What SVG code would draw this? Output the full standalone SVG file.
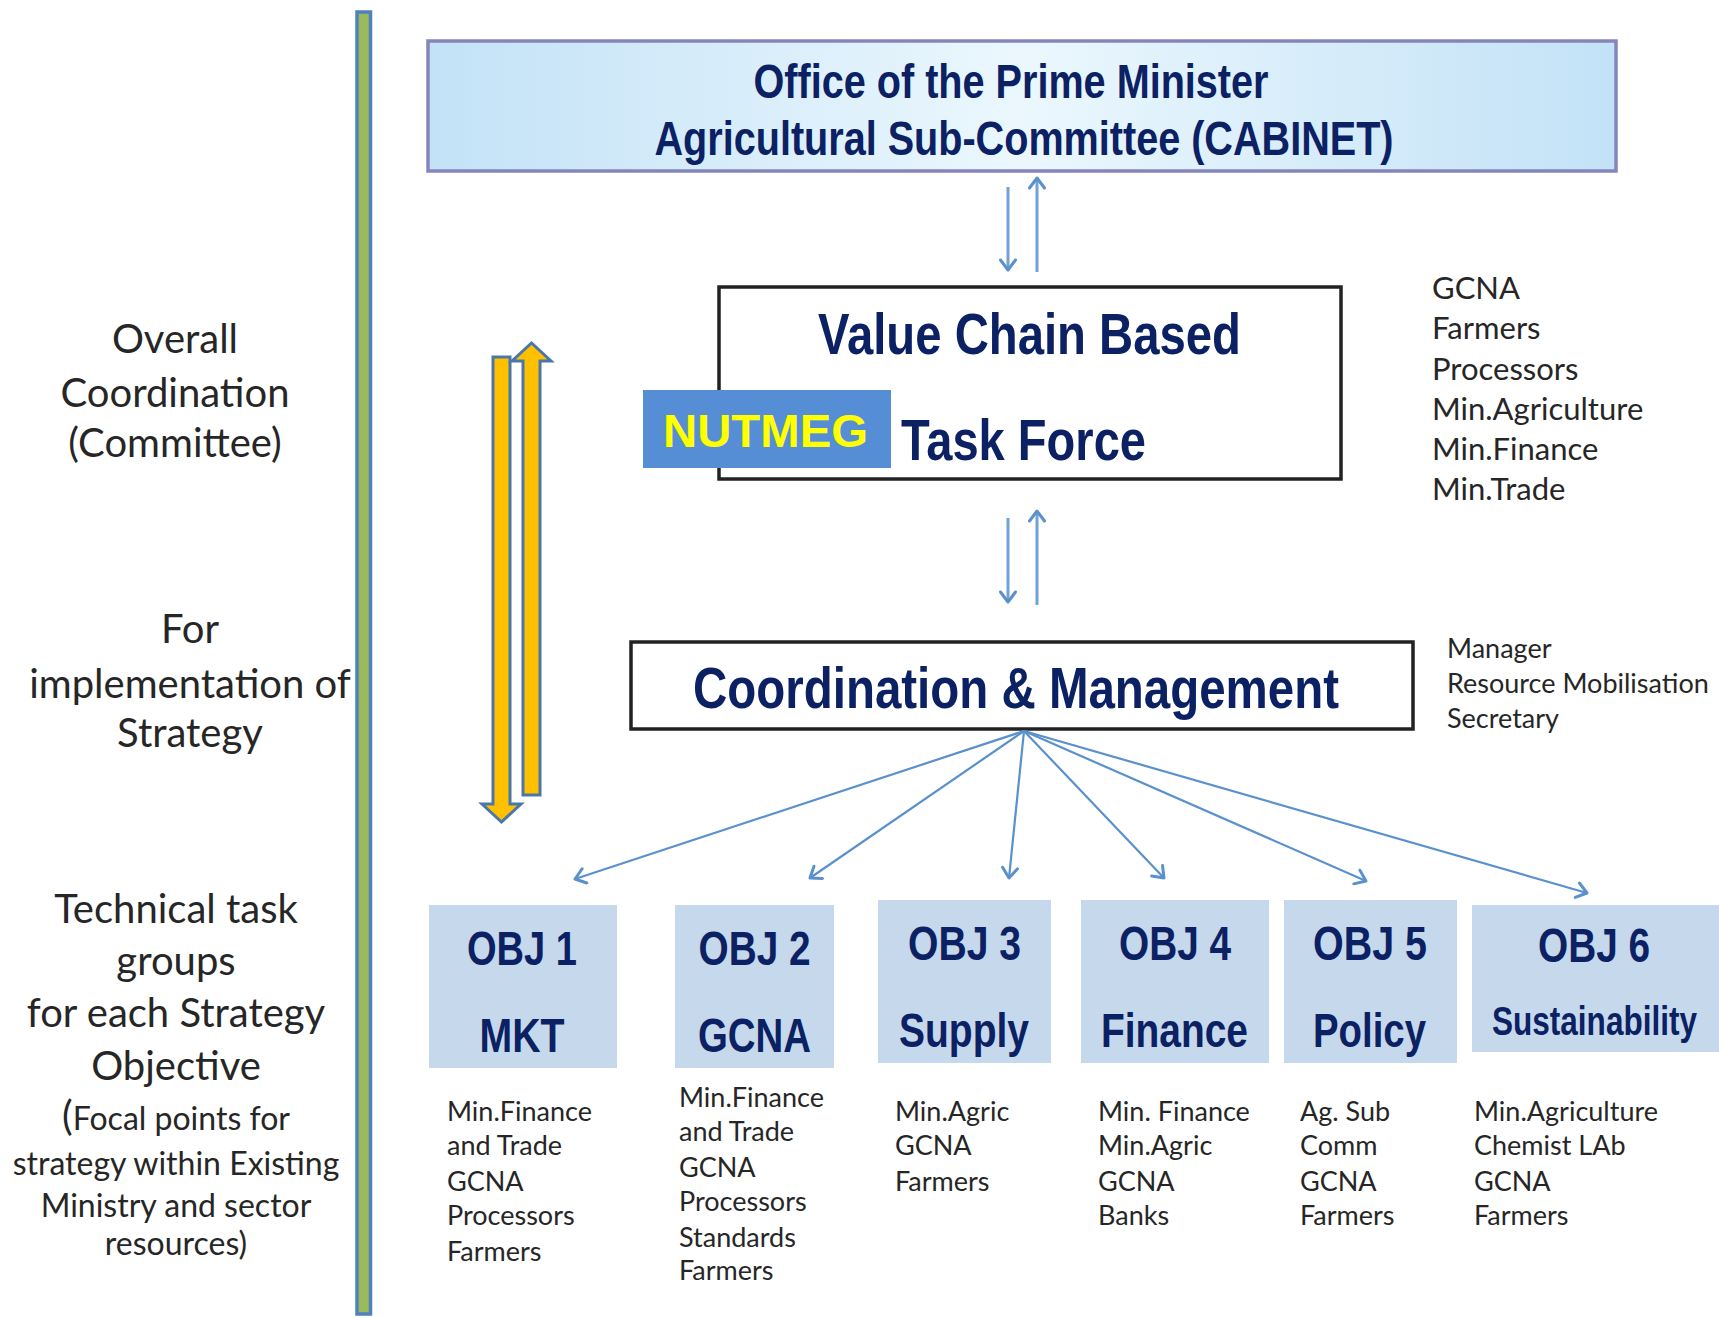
<svg xmlns="http://www.w3.org/2000/svg" width="1719" height="1318" viewBox="0 0 1719 1318">
  <defs>
    <linearGradient id="cabinetFill" x1="0" y1="0" x2="1" y2="0">
      <stop offset="0" stop-color="#c3e2f7"/>
      <stop offset="0.5" stop-color="#ebf7fd"/>
      <stop offset="1" stop-color="#c3e2f7"/>
    </linearGradient>
    <marker id="vhead" viewBox="-12 -9 14 18" markerWidth="14" markerHeight="18" refX="0" refY="0" orient="auto" markerUnits="userSpaceOnUse">
      <path d="M-10,-7.5 L0,0 L-10,7.5" fill="none" stroke="#5a91cc" stroke-width="3" stroke-linecap="round" stroke-linejoin="round"/>
    </marker>
    <style>
      .title { font-family: "Liberation Sans Narrow", "Liberation Sans", Arial, sans-serif; font-weight: bold; fill: #0b2163; text-anchor: middle; }
      .label { font-family: Lato, "Open Sans", "Liberation Sans", sans-serif; fill: #262626; text-anchor: middle; }
      .list { font-family: Lato, "Open Sans", "Liberation Sans", sans-serif; fill: #262626; }
      .obj { fill: #c5d8ec; }
      .frame { fill: #ffffff; stroke: #222222; stroke-width: 3.5; }
      .link { stroke: #5a91cc; stroke-width: 2.2; fill: none; marker-end: url(#vhead); }
      .pair { stroke: #6ea3d8; stroke-width: 3; fill: none; marker-end: url(#vhead); }
      .block { fill: #ffc000; stroke: #4a76a8; stroke-width: 3; stroke-linejoin: miter; }
    </style>
  </defs>

  <rect width="1719" height="1318" fill="#ffffff"/>

  <!-- Left-hand tier labels -->
  <g id="tier-labels">
    <text class="label" font-size="40" x="175" y="353">Overall</text>
    <text class="label" font-size="40" x="175" y="407">Coordination</text>
    <text class="label" font-size="40" x="175" y="457">(Committee)</text>

    <text class="label" font-size="40" x="190" y="643">For</text>
    <text class="label" font-size="40" x="190" y="698">implementation of</text>
    <text class="label" font-size="40" x="190" y="747">Strategy</text>

    <text class="label" font-size="40" x="176" y="923">Technical task</text>
    <text class="label" font-size="40" x="176" y="975">groups</text>
    <text class="label" font-size="40" x="176" y="1027">for each Strategy</text>
    <text class="label" font-size="40" x="176" y="1080">Objective</text>
    <text class="label" font-size="32" x="176" y="1130"><tspan font-size="40">(</tspan>Focal points for</text>
    <text class="label" font-size="32" x="176" y="1175">strategy within Existing</text>
    <text class="label" font-size="32" x="176" y="1217">Ministry and sector</text>
    <text class="label" font-size="32" x="176" y="1255">resources)</text>
  </g>

  <!-- Vertical divider bar -->
  <g id="divider">
    <rect x="357" y="12" width="13.5" height="1302" fill="#9bbb59" stroke="#4f81bd" stroke-width="3.5"/>
  </g>

  <!-- Up / down block arrows -->
  <g id="flow-arrows">
    <polygon class="block" points="493,357 510,357 510,804 521,804 501.5,822 482,804 493,804"/>
    <polygon class="block" points="523,795 540,795 540,361 551,361 531.5,343 512,361 523,361"/>
  </g>

  <!-- Cabinet -->
  <g id="cabinet">
    <rect x="428" y="41" width="1188" height="130" fill="url(#cabinetFill)" stroke="#8585bb" stroke-width="3.5"/>
    <text class="title" font-size="48" x="1011" y="98" textLength="515" lengthAdjust="spacingAndGlyphs">Office of the Prime Minister</text>
    <text class="title" font-size="48" x="1024" y="155" textLength="739" lengthAdjust="spacingAndGlyphs">Agricultural Sub-Committee (CABINET)</text>
  </g>

  <!-- Task force -->
  <g id="task-force">
    <rect class="frame" x="719" y="287" width="622" height="192"/>
    <text class="title" font-size="57" x="1029.5" y="354" textLength="423" lengthAdjust="spacingAndGlyphs">Value Chain Based</text>
    <text class="title" font-size="57" x="1023.5" y="460" textLength="245" lengthAdjust="spacingAndGlyphs">Task Force</text>
  </g>

  <!-- NUTMEG badge -->
  <g id="nutmeg">
    <rect x="643" y="390" width="248" height="78" fill="#558ed5"/>
    <text x="765.5" y="447" font-family="Liberation Sans, Arial, sans-serif" font-weight="bold" font-size="47" fill="#ffff00" text-anchor="middle" textLength="205" lengthAdjust="spacingAndGlyphs">NUTMEG</text>
  </g>

  <!-- Task force membership -->
  <g id="task-force-members" class="list" font-size="31">
    <text x="1432" y="299">GCNA</text>
    <text x="1432" y="339">Farmers</text>
    <text x="1432" y="380">Processors</text>
    <text x="1432" y="420">Min.Agriculture</text>
    <text x="1432" y="460">Min.Finance</text>
    <text x="1432" y="500">Min.Trade</text>
  </g>

  <!-- Coordination & Management -->
  <g id="coordination">
    <rect class="frame" x="631" y="642" width="782" height="87" stroke-width="3"/>
    <text class="title" font-size="57" x="1016" y="708" textLength="646" lengthAdjust="spacingAndGlyphs">Coordination &amp; Management</text>
  </g>

  <g id="coordination-staff" class="list" font-size="27">
    <text x="1447" y="658">Manager</text>
    <text x="1447" y="693">Resource Mobilisation</text>
    <text x="1447" y="728">Secretary</text>
  </g>

  <!-- Connectors -->
  <g id="connectors">
    <line class="pair" x1="1008" y1="187" x2="1008" y2="270"/>
    <line class="pair" x1="1037" y1="272" x2="1037" y2="178"/>
    <line class="pair" x1="1008" y1="518" x2="1008" y2="602"/>
    <line class="pair" x1="1037" y1="605" x2="1037" y2="511"/>

    <line class="link" x1="1024" y1="731" x2="575" y2="879"/>
    <line class="link" x1="1024" y1="731" x2="810" y2="878"/>
    <line class="link" x1="1024" y1="731" x2="1009" y2="878"/>
    <line class="link" x1="1024" y1="731" x2="1164" y2="878"/>
    <line class="link" x1="1024" y1="731" x2="1366" y2="881"/>
    <line class="link" x1="1024" y1="731" x2="1587" y2="893"/>
  </g>

  <!-- Strategy objectives -->
  <g id="obj1">
    <rect class="obj" x="429" y="905" width="188" height="163"/>
    <text class="title" font-size="48" x="522" y="965" textLength="110" lengthAdjust="spacingAndGlyphs">OBJ 1</text>
    <text class="title" font-size="48" x="522" y="1052" textLength="85" lengthAdjust="spacingAndGlyphs">MKT</text>
    <g class="list" font-size="27">
      <text x="447" y="1121">Min.Finance</text>
      <text x="447" y="1155">and Trade</text>
      <text x="447" y="1191">GCNA</text>
      <text x="447" y="1225">Processors</text>
      <text x="447" y="1261">Farmers</text>
    </g>
  </g>

  <g id="obj2">
    <rect class="obj" x="675" y="905" width="159" height="163"/>
    <text class="title" font-size="48" x="754.5" y="965" textLength="112" lengthAdjust="spacingAndGlyphs">OBJ 2</text>
    <text class="title" font-size="48" x="754.5" y="1052" textLength="113" lengthAdjust="spacingAndGlyphs">GCNA</text>
    <g class="list" font-size="27">
      <text x="679" y="1107">Min.Finance</text>
      <text x="679" y="1141">and Trade</text>
      <text x="679" y="1177">GCNA</text>
      <text x="679" y="1211">Processors</text>
      <text x="679" y="1247">Standards</text>
      <text x="679" y="1280">Farmers</text>
    </g>
  </g>

  <g id="obj3">
    <rect class="obj" x="878" y="900" width="173" height="163"/>
    <text class="title" font-size="48" x="964.5" y="960" textLength="113" lengthAdjust="spacingAndGlyphs">OBJ 3</text>
    <text class="title" font-size="48" x="964" y="1047" textLength="130" lengthAdjust="spacingAndGlyphs">Supply</text>
    <g class="list" font-size="27">
      <text x="895" y="1121">Min.Agric</text>
      <text x="895" y="1155">GCNA</text>
      <text x="895" y="1191">Farmers</text>
    </g>
  </g>

  <g id="obj4">
    <rect class="obj" x="1081" y="900" width="188" height="163"/>
    <text class="title" font-size="48" x="1175" y="960" textLength="112" lengthAdjust="spacingAndGlyphs">OBJ 4</text>
    <text class="title" font-size="48" x="1174.5" y="1047" textLength="147" lengthAdjust="spacingAndGlyphs">Finance</text>
    <g class="list" font-size="27">
      <text x="1098" y="1121">Min. Finance</text>
      <text x="1098" y="1155">Min.Agric</text>
      <text x="1098" y="1191">GCNA</text>
      <text x="1098" y="1225">Banks</text>
    </g>
  </g>

  <g id="obj5">
    <rect class="obj" x="1284" y="900" width="173" height="163"/>
    <text class="title" font-size="48" x="1370" y="960" textLength="114" lengthAdjust="spacingAndGlyphs">OBJ 5</text>
    <text class="title" font-size="48" x="1369.5" y="1047" textLength="113" lengthAdjust="spacingAndGlyphs">Policy</text>
    <g class="list" font-size="27">
      <text x="1300" y="1121">Ag. Sub</text>
      <text x="1300" y="1155">Comm</text>
      <text x="1300" y="1191">GCNA</text>
      <text x="1300" y="1225">Farmers</text>
    </g>
  </g>

  <g id="obj6">
    <rect class="obj" x="1472" y="905" width="247" height="147"/>
    <text class="title" font-size="48" x="1594" y="962" textLength="112" lengthAdjust="spacingAndGlyphs">OBJ 6</text>
    <text class="title" font-size="40" x="1594.5" y="1035" textLength="205" lengthAdjust="spacingAndGlyphs">Sustainability</text>
    <g class="list" font-size="27">
      <text x="1474" y="1121">Min.Agriculture</text>
      <text x="1474" y="1155">Chemist LAb</text>
      <text x="1474" y="1191">GCNA</text>
      <text x="1474" y="1225">Farmers</text>
    </g>
  </g>
</svg>
